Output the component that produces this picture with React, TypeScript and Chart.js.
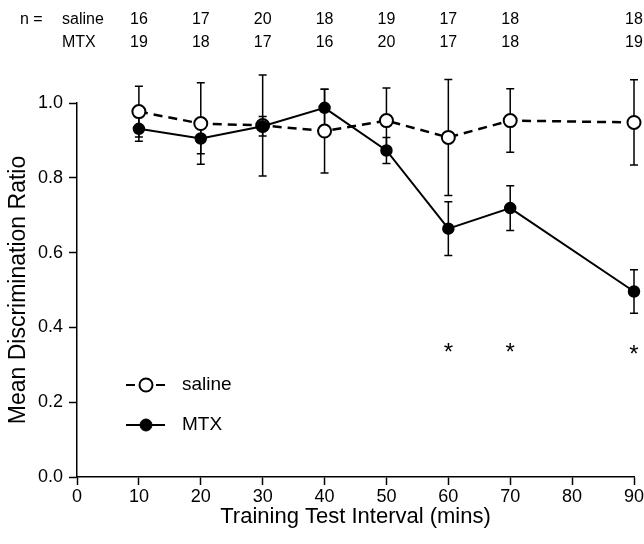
import React, { useEffect, useRef } from "react";
import { Chart, registerables } from "chart.js";

Chart.register(...registerables);

const intervals = [10, 20, 30, 40, 50, 60, 70, 90];
const salineMean = [0.977, 0.945, 0.94, 0.925, 0.953, 0.908, 0.953, 0.948];
const salineSem = [0.068, 0.109, 0.135, 0.112, 0.087, 0.155, 0.085, 0.114];
const mtxMean = [0.931, 0.905, 0.938, 0.987, 0.873, 0.664, 0.719, 0.496];
const mtxSem = [0.033, 0.041, 0.026, 0.05, 0.035, 0.072, 0.06, 0.058];
const nSaline = [16, 17, 20, 18, 19, 17, 18, 18];
const nMtx = [19, 18, 17, 16, 20, 17, 18, 19];
const sigX = [60, 70, 90];
const sigY = [0.35, 0.35, 0.345];
const xTicks = [0, 10, 20, 30, 40, 50, 60, 70, 80, 90];
const yTicks = [0, 0.2, 0.4, 0.6, 0.8, 1.0];

const FONT = "'Liberation Sans', Arial, Helvetica, sans-serif";

const errorBarPlugin = {
  id: "errorBars",
  beforeDatasetsDraw(chart: any) {
    const { ctx, scales } = chart;
    const x = scales.x;
    const y = scales.y;
    ctx.save();
    ctx.strokeStyle = "#000";
    ctx.lineWidth = 1.5;
    const draw = (means: number[], errs: number[]) => {
      means.forEach((m, i) => {
        const px = x.getPixelForValue(intervals[i]);
        const top = y.getPixelForValue(m + errs[i]);
        const bot = y.getPixelForValue(m - errs[i]);
        ctx.beginPath();
        ctx.moveTo(px, top);
        ctx.lineTo(px, bot);
        ctx.moveTo(px - 4, top);
        ctx.lineTo(px + 4, top);
        ctx.moveTo(px - 4, bot);
        ctx.lineTo(px + 4, bot);
        ctx.stroke();
      });
    };
    draw(salineMean, salineSem);
    draw(mtxMean, mtxSem);
    ctx.restore();
  },
};

const annotationsPlugin = {
  id: "annotations",
  afterDraw(chart: any) {
    const { ctx, scales } = chart;
    const x = scales.x;
    const y = scales.y;
    ctx.save();
    ctx.fillStyle = "#000";

    // n table
    ctx.font = `16px ${FONT}`;
    ctx.textBaseline = "middle";
    ctx.textAlign = "left";
    ctx.fillText("n =", 20, 20);
    ctx.fillText("saline", 62, 20);
    ctx.fillText("MTX", 62, 43);
    ctx.textAlign = "center";
    intervals.forEach((v, i) => {
      const px = x.getPixelForValue(v);
      ctx.fillText(String(nSaline[i]), px, 20);
      ctx.fillText(String(nMtx[i]), px, 43);
    });

    // significance asterisks
    ctx.font = `24px ${FONT}`;
    ctx.textAlign = "center";
    ctx.textBaseline = "alphabetic";
    sigX.forEach((v, i) => {
      const px = x.getPixelForValue(v);
      const py = y.getPixelForValue(sigY[i]);
      ctx.fillText("*", px, py + 0.57 * 24);
    });

    // legend
    const items = [
      { label: "saline", yPos: 385, dash: [9, 6], fill: "#fff" },
      { label: "MTX", yPos: 425, dash: [], fill: "#000" },
    ];
    items.forEach((it) => {
      ctx.strokeStyle = "#000";
      ctx.lineWidth = 2;
      ctx.setLineDash(it.dash);
      ctx.beginPath();
      ctx.moveTo(126, it.yPos);
      ctx.lineTo(165, it.yPos);
      ctx.stroke();
      ctx.setLineDash([]);
      ctx.beginPath();
      ctx.arc(146, it.yPos, it.fill === "#fff" ? 6.5 : 6, 0, Math.PI * 2);
      ctx.fillStyle = it.fill;
      ctx.fill();
      ctx.lineWidth = it.fill === "#fff" ? 2 : 1;
      ctx.stroke();
      ctx.fillStyle = "#000";
      ctx.font = `19px ${FONT}`;
      ctx.textAlign = "left";
      ctx.textBaseline = "middle";
      ctx.fillText(it.label, 182, it.yPos);
    });
    ctx.restore();
  },
};

export default function App() {
  const canvasRef = useRef<HTMLCanvasElement | null>(null);

  useEffect(() => {
    document.body.style.margin = "0";
    const canvas = canvasRef.current;
    if (!canvas) return;
    const chart = new Chart(canvas, {
      type: "line",
      data: {
        datasets: [
          {
            label: "MTX",
            data: intervals.map((v, i) => ({ x: v, y: mtxMean[i] })),
            borderColor: "#000",
            backgroundColor: "#000",
            borderWidth: 2,
            pointRadius: 5.5,
            pointBorderWidth: 1.5,
            pointBackgroundColor: "#000",
            pointBorderColor: "#000",
            tension: 0,
            clip: false,
            order: 0,
          },
          {
            label: "saline",
            data: intervals.map((v, i) => ({ x: v, y: salineMean[i] })),
            borderColor: "#000",
            backgroundColor: "#fff",
            borderWidth: 2.5,
            borderDash: [9, 6],
            pointRadius: 6.5,
            pointBorderWidth: 2,
            pointBackgroundColor: "#fff",
            pointBorderColor: "#000",
            tension: 0,
            clip: false,
            order: 1,
          },
        ],
      },
      options: {
        responsive: false,
        animation: false,
        devicePixelRatio: 1,
        layout: { padding: { top: 103, right: 10, left: 0, bottom: 0 } },
        plugins: {
          legend: { display: false },
          tooltip: { enabled: false },
          title: { display: false },
        },
        scales: {
          x: {
            type: "linear",
            min: 0,
            max: 90,
            afterBuildTicks(scale: any) {
              scale.ticks = xTicks.map((v) => ({ value: v }));
            },
            afterFit(scale: any) {
              scale.height = 67;
              scale.paddingLeft = 0;
              scale.paddingRight = 0;
            },
            ticks: {
              color: "#000",
              font: { family: FONT, size: 18 },
              padding: 1,
              maxRotation: 0,
              autoSkip: false,
            },
            grid: {
              display: true,
              drawOnChartArea: false,
              drawTicks: true,
              tickLength: 8,
              tickColor: "#000",
              tickWidth: 1.5,
            },
            border: { display: true, color: "#000", width: 1.5 },
            title: {
              display: true,
              text: "Training Test Interval (mins)",
              color: "#000",
              font: { family: FONT, size: 22 },
              padding: { top: 0, bottom: 14 },
            },
          },
          y: {
            type: "linear",
            min: 0,
            max: 1.0,
            afterBuildTicks(scale: any) {
              scale.ticks = yTicks.map((v) => ({ value: v }));
            },
            afterFit(scale: any) {
              scale.width = 77;
              scale.paddingTop = 0;
              scale.paddingBottom = 0;
            },
            ticks: {
              color: "#000",
              font: { family: FONT, size: 18 },
              padding: 6,
              callback: (v: any) => Number(v).toFixed(1),
            },
            grid: {
              display: true,
              drawOnChartArea: false,
              drawTicks: true,
              tickLength: 8,
              tickColor: "#000",
              tickWidth: 1.5,
            },
            border: { display: true, color: "#000", width: 1.5 },
            title: {
              display: true,
              text: "Mean Discrimination Ratio",
              color: "#000",
              font: { family: FONT, size: 23 },
              padding: { top: 5, bottom: 0 },
            },
          },
        },
      },
      plugins: [errorBarPlugin, annotationsPlugin],
    } as any);
    return () => chart.destroy();
  }, []);

  return (
    <div style={{ position: "fixed", left: 0, top: 0, width: 644, height: 544, background: "#fff" }}>
      <canvas ref={canvasRef} width={644} height={544} />
    </div>
  );
}
